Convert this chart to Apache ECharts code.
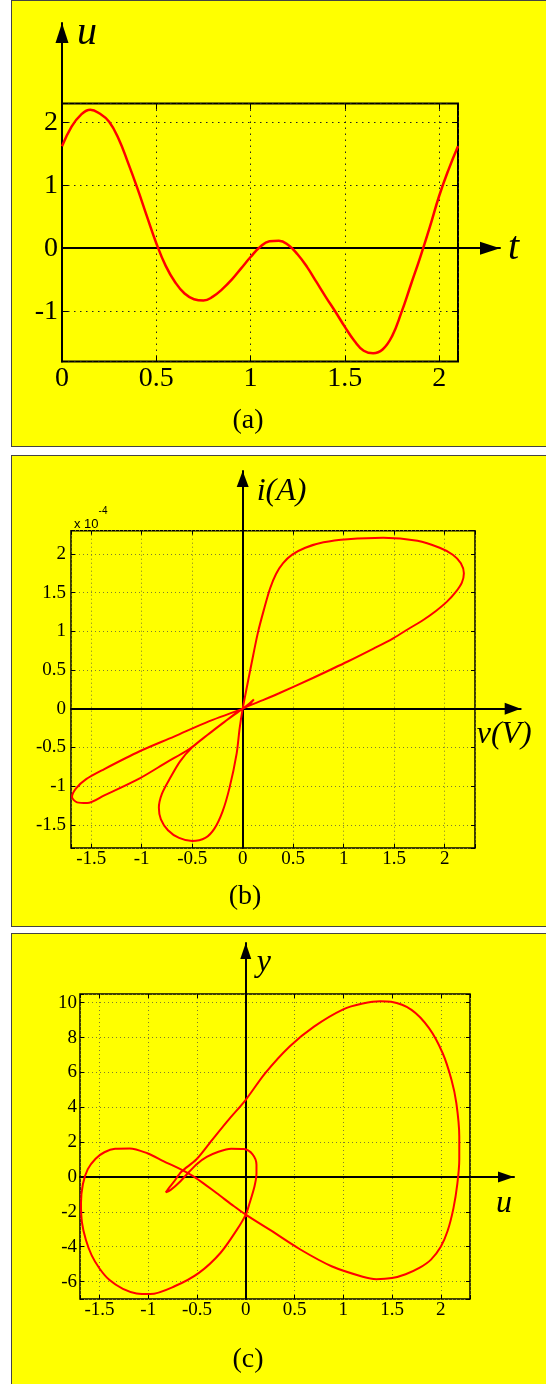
<!DOCTYPE html>
<html>
<head>
<meta charset="utf-8">
<script src="https://cdn.jsdelivr.net/npm/echarts@6/dist/echarts.min.js"></script>
<style>
body { margin: 0; background: #fff; }
.panel { position: absolute; left: 11px; width: 560px; background: #ffff00; border: 1.5px solid #444; box-sizing: border-box; }
#main { position: absolute; left: 0; top: 0; width: 546px; height: 1384px; }
</style>
</head>
<body>
<div class="panel" style="top:0;height:447px"></div>
<div class="panel" style="top:455px;height:472px"></div>
<div class="panel" style="top:933px;height:460px"></div>
<div id="main"></div>
<script>
// (a) u over t
var tValues = [0, 0.05, 0.1, 0.15, 0.2, 0.25, 0.3, 0.35, 0.4, 0.45, 0.5, 0.55, 0.6, 0.65, 0.7, 0.75, 0.8, 0.85, 0.9, 0.95,
    1, 1.05, 1.1, 1.15, 1.2, 1.25, 1.3, 1.35, 1.4, 1.45, 1.5, 1.55, 1.6, 1.65, 1.7, 1.75, 1.8, 1.85, 1.9, 1.95, 2, 2.05, 2.1];
var uValues = [1.62, 1.93, 2.12, 2.2, 2.14, 2.01, 1.74, 1.36, 0.95, 0.51, 0.08, -0.28, -0.54, -0.72, -0.81, -0.83, -0.77, -0.65, -0.5, -0.32,
    -0.14, 0.02, 0.11, 0.12, 0.05, -0.1, -0.3, -0.54, -0.78, -1.01, -1.25, -1.47, -1.63, -1.67, -1.61, -1.40, -1.02, -0.58, -0.14, 0.33, 0.83, 1.25, 1.62];

// (b) i(v), i in units of 1e-4 A
var vPath = [0.70, 1.04, 1.30, 1.49, 1.64, 1.78, 1.91, 2.02, 2.11, 2.17, 2.19, 2.16, 2.08, 1.95, 1.73, 1.39, 1.04, 0.80, 0.62, 0.49,
    0.40, 0.33, 0.27, 0.21, 0.15, 0.09, 0.04, 0, -0.03, -0.06, -0.13, -0.20, -0.28, -0.37, -0.50, -0.63, -0.74, -0.81, -0.83, -0.80,
    -0.72, -0.62, -0.50, -0.35, -0.18, 0, 0.06, 0.11, 0.07, 0, -0.33, -0.68, -1.02, -1.37, -1.55, -1.65, -1.69, -1.64, -1.54, -1.37,
    -1.02, -0.75, -0.54, -0.35, -0.18, 0, 0.20, 0.36, 0.70];
var iPath = [0.40, 0.61, 0.78, 0.91, 1.03, 1.14, 1.26, 1.38, 1.51, 1.63, 1.75, 1.88, 1.99, 2.08, 2.17, 2.21, 2.19, 2.15, 2.08, 1.99,
    1.88, 1.74, 1.55, 1.28, 0.98, 0.60, 0.27, 0, -0.25, -0.58, -1.02, -1.33, -1.55, -1.67, -1.71, -1.67, -1.57, -1.43, -1.28, -1.10,
    -0.90, -0.68, -0.50, -0.34, -0.17, 0, 0.06, 0.12, 0.06, 0, -0.16, -0.36, -0.55, -0.78, -0.91, -1.03, -1.14, -1.21, -1.22, -1.12,
    -0.90, -0.69, -0.53, -0.34, -0.17, 0, 0.11, 0.20, 0.40];

// (c) y(u)
var uPath = [0.27, 0.56, 0.88, 1.20, 1.34, 1.50, 1.64, 1.78, 1.90, 2.00, 2.07, 2.13, 2.17, 2.19, 2.19, 2.16, 2.11, 2.02, 1.88, 1.70,
    1.49, 1.38, 1.20, 1.00, 0.70, 0.45, 0.20, 0, -0.19, -0.37, -0.51, -0.66, -0.74, -0.80, -0.82, -0.77, -0.68, -0.58, -0.50, -0.40,
    -0.28, -0.15, -0.02, 0.07, 0.11, 0.11, 0.09, 0.04, 0, -0.09, -0.26, -0.48, -0.73, -0.98, -1.12, -1.26, -1.40, -1.50, -1.58, -1.64,
    -1.68, -1.69, -1.67, -1.62, -1.54, -1.45, -1.34, -1.19, -1.01, -0.84, -0.66, -0.51, -0.30, -0.12, 0, 0.27];
var yPath = [-3.11, -4.16, -5.12, -5.72, -5.86, -5.80, -5.58, -5.22, -4.74, -4.00, -3.10, -1.80, -0.40, 1.00, 2.33, 4.24, 5.58, 7.10, 8.54, 9.59,
    10.05, 10.08, 9.95, 9.62, 8.63, 7.49, 5.96, 4.43, 3.19, 1.95, 0.99, 0.30, -0.30, -0.72, -0.88, -0.74, -0.30, 0.30, 0.75, 1.15,
    1.45, 1.62, 1.60, 1.30, 0.70, 0.20, -0.53, -1.49, -2.16, -3.02, -4.36, -5.50, -6.27, -6.72, -6.68, -6.42, -5.90, -5.25, -4.50, -3.60,
    -2.60, -1.50, -0.40, 0.45, 1.05, 1.42, 1.62, 1.64, 1.36, 0.90, 0.42, -0.06, -0.92, -1.68, -2.16, -3.11];

// axis extents and tick steps
var rangeA = { x: [0, 2.1], y: [-1.8, 2.3] }, stepA = { x: 0.5, y: 1 };
var rangeB = { x: [-1.7, 2.3], y: [-1.8, 2.3] }, stepB = { x: 0.5, y: 0.5 };
var rangeC = { x: [-1.7, 2.3], y: [-7, 10.5] }, stepC = { x: 0.5, y: 2 };

var serif = '"Liberation Serif", "Times New Roman", serif';
var grids = [], xAxes = [], yAxes = [], series = [];

function zip(a, b) {
    return a.map(function (x, k) { return [x, b[k]]; });
}

// only label the regular ticks, not the tight axis ends
function tickLabel(step) {
    return function (v) {
        var k = v / step;
        return Math.abs(k - Math.round(k)) < 1e-6 ? String(+v.toFixed(3)) : '';
    };
}

function addPanel(p) {
    var gi = grids.length;
    var bottom = p.box.top + p.box.height;
    grids.push({ left: p.box.left, top: p.box.top, width: p.box.width, height: p.box.height, show: true,
        backgroundColor: 'transparent', borderColor: '#000', borderWidth: p.border, outerBoundsMode: 'none' });
    // second grid only carries the arrow axes through zero
    grids.push({ left: p.box.left, top: p.arrowTop, width: p.arrowRight - p.box.left, height: bottom - p.arrowTop,
        show: false, outerBoundsMode: 'none' });
    var xMaxO = p.range.x[0] + (p.range.x[1] - p.range.x[0]) * (p.arrowRight - p.box.left) / p.box.width;
    var yMaxO = p.range.y[0] + (p.range.y[1] - p.range.y[0]) * (bottom - p.arrowTop) / p.box.height;

    var tick = { show: true, inside: true, length: p.tickLen, lineStyle: { color: '#000', width: 1 } };
    var split = { show: true, lineStyle: { color: p.gridColor, width: 1, type: p.gridDash } };
    var lab = { fontFamily: serif, fontSize: p.fontSize, color: '#000' };
    var off = { show: false };
    var xi = xAxes.length, yi = yAxes.length;

    xAxes.push({ type: 'value', gridIndex: gi, position: 'bottom', min: p.range.x[0], max: p.range.x[1],
        minInterval: p.step.x, maxInterval: p.step.x, axisLine: { show: false, onZero: false }, axisTick: tick, splitLine: split,
        axisLabel: Object.assign({ margin: p.xMargin, formatter: tickLabel(p.step.x) }, lab) });
    xAxes.push({ type: 'value', gridIndex: gi, position: 'top', min: p.range.x[0], max: p.range.x[1],
        minInterval: p.step.x, maxInterval: p.step.x, axisLine: { show: false, onZero: false }, axisTick: tick,
        splitLine: off, axisLabel: off });
    yAxes.push(Object.assign({ type: 'value', gridIndex: gi, position: 'left', min: p.range.y[0], max: p.range.y[1],
        minInterval: p.step.y, maxInterval: p.step.y, axisLine: { show: false, onZero: false }, axisTick: tick, splitLine: split,
        axisLabel: Object.assign({ margin: p.yMargin, formatter: tickLabel(p.step.y) }, lab) }, p.leftName || {}));
    yAxes.push({ type: 'value', gridIndex: gi, position: 'right', min: p.range.y[0], max: p.range.y[1],
        minInterval: p.step.y, maxInterval: p.step.y, axisLine: { show: false, onZero: false }, axisTick: tick,
        splitLine: off, axisLabel: off });

    var arrowLine = { show: true, onZero: true, symbol: ['none', 'triangle'], symbolSize: p.arrow,
        symbolOffset: [0, -p.arrow[1] / 2], lineStyle: { color: '#000', width: 2 } };
    var nameStyle = { fontFamily: serif, fontStyle: 'italic', fontSize: p.nameSize, color: '#000', align: 'left', verticalAlign: 'middle' };
    // x name is pushed below the arrow by putting it on a second, tall line
    var xDrop = p.xName.drop || 0;
    xAxes.push({ type: 'value', gridIndex: gi + 1, min: p.range.x[0], max: xMaxO, axisLine: arrowLine,
        axisTick: off, axisLabel: off, splitLine: off,
        name: xDrop ? '\n' + p.xName.text : p.xName.text, nameLocation: 'end', nameGap: p.xName.gap,
        nameTextStyle: Object.assign({}, nameStyle, xDrop ? { lineHeight: 2 * xDrop } : {}) });
    yAxes.push({ type: 'value', gridIndex: gi + 1, min: p.range.y[0], max: yMaxO, axisLine: arrowLine,
        axisTick: off, axisLabel: off, splitLine: off, name: p.yName.text, nameLocation: 'end', nameGap: p.yName.gap,
        nameTextStyle: Object.assign({ padding: p.yName.padding }, nameStyle) });

    series.push({ type: 'line', xAxisIndex: xi, yAxisIndex: yi, data: p.data, showSymbol: false, smooth: p.smooth,
        clip: false, silent: true, z: 5, lineStyle: { color: '#ff0000', width: p.lineWidth } });
}

addPanel({
    box: { left: 62, top: 103.5, width: 396, height: 258 }, arrowTop: 23, arrowRight: 500,
    range: rangeA, step: stepA, fontSize: 28, xMargin: 3, yMargin: 4, tickLen: 6, border: 2,
    gridColor: '#222', gridDash: [1.5, 4.5], arrow: [13, 20], nameSize: 40,
    xName: { text: 't', gap: 8 },
    yName: { text: 'u', gap: -10, padding: [0, 0, 0, 15] },
    data: zip(tValues, uValues), smooth: 0.45, lineWidth: 2.5
});

addPanel({
    box: { left: 71, top: 530.7, width: 404, height: 317.3 }, arrowTop: 471, arrowRight: 520.7,
    range: rangeB, step: stepB, fontSize: 19, xMargin: 2, yMargin: 5, tickLen: 4, border: 1.5,
    gridColor: '#7c7c30', gridDash: [1, 3], arrow: [12, 16], nameSize: 32,
    xName: { text: 'v(V)', gap: -44, drop: 26 },
    yName: { text: 'i(A)', gap: -21, padding: [0, 0, 0, 14] },
    leftName: {
        name: '{a|x 10}{b|-4}', nameLocation: 'end', nameGap: 0,
        nameTextStyle: { align: 'left', verticalAlign: 'bottom', padding: [0, 0, 0, 3],
            rich: {
                a: { fontFamily: '"Liberation Sans", Arial, sans-serif', fontSize: 13, color: '#000', lineHeight: 24, verticalAlign: 'bottom' },
                b: { fontFamily: '"Liberation Sans", Arial, sans-serif', fontSize: 10, color: '#000', lineHeight: 10, verticalAlign: 'top' }
            } }
    },
    data: zip(vPath, iPath), smooth: 0.3, lineWidth: 2
});

addPanel({
    box: { left: 80, top: 994, width: 390, height: 305 }, arrowTop: 943, arrowRight: 514,
    range: rangeC, step: stepC, fontSize: 19, xMargin: 2, yMargin: 3, tickLen: 4, border: 1.5,
    gridColor: '#7c7c30', gridDash: [1, 3], arrow: [11, 16], nameSize: 32,
    xName: { text: 'u', gap: -18, drop: 27 },
    yName: { text: 'y', gap: -20, padding: [0, 0, 0, 11] },
    data: zip(uPath, yPath), smooth: 0.3, lineWidth: 2
});

function caption(text, x, y) {
    return { type: 'text', x: x, y: y, z: 10,
        style: { text: text, fill: '#000', font: '28px ' + serif, textAlign: 'center', textVerticalAlign: 'middle', verticalAlign: 'middle' } };
}

var myChart = echarts.init(document.getElementById('main'));
myChart.setOption({
    backgroundColor: 'transparent',
    animation: false,
    grid: grids,
    xAxis: xAxes,
    yAxis: yAxes,
    series: series,
    graphic: [caption('(a)', 248, 421), caption('(b)', 245, 897), caption('(c)', 248, 1360)]
});
</script>
</body>
</html>
